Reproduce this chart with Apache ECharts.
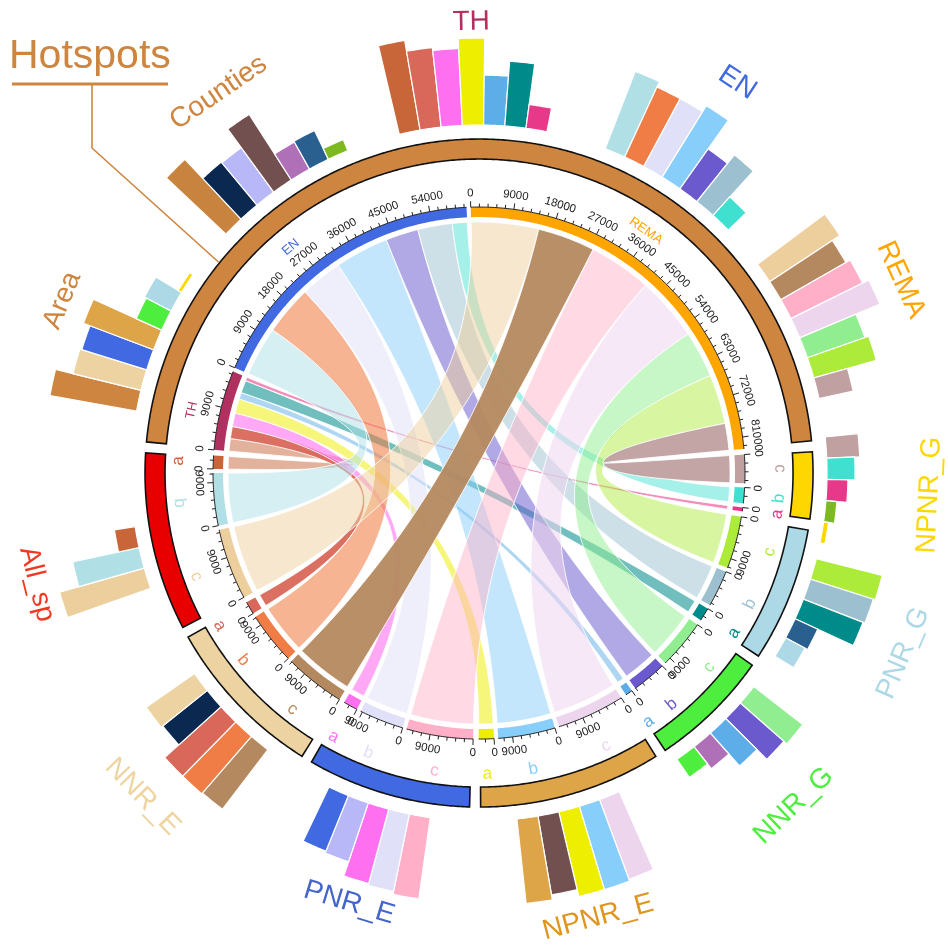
<!DOCTYPE html>
<html>
<head>
<meta charset="utf-8">
<script src="https://cdn.jsdelivr.net/npm/echarts@6/dist/echarts.min.js"></script>
<style>
html, body { margin: 0; padding: 0; background: #fff; }
#main { width: 948px; height: 948px; }
</style>
</head>
<body>
<div id="main"></div>
<script>
// ---------------- data ----------------
const hotspotNames = ['TH', 'EN', 'REMA'];
const hotspotColors = ['#B03060', '#4169E1', '#FFA500'];

// protected area groups, clockwise after the hotspots
const groupNames = ['NPNR_G', 'PNR_G', 'NNR_G', 'NPNR_E', 'PNR_E', 'NNR_E', 'All_sp'];
const groupColors = ['#FFD700', '#ADD8E6', '#4DEE3D', '#DDA448', '#4169E1', '#EDD3A2', '#E80000'];
const hotspotGroupColor = '#CD853F';

// sub-sector colours, order a, b, c
const subColors = {
    NPNR_G: ['#E8388A', '#40E0D0', '#C0A0A0'],
    PNR_G: ['#008B8B', '#9CC0D0', '#ADEB3A'],
    NNR_G: ['#5DADE8', '#6A5ACD', '#90EE90'],
    NPNR_E: ['#EEEE00', '#87CEFA', '#EED5EE'],
    PNR_E: ['#FF70F0', '#E0E0F8', '#FFB0C8'],
    NNR_E: ['#D9685A', '#F07D45', '#B5895F'],
    All_sp: ['#C8663A', '#B0E0E6', '#EDCF9E']
};
const countyColors = {
    Hotspots: '#C8843F', NNR_E: '#0A2850', PNR_E: '#B8B8F8', NPNR_E: '#735050',
    NNR_G: '#B070B8', PNR_G: '#2A6090', NPNR_G: '#7CBA20'
};

// links: TH -> a, EN -> b, REMA -> c ; order of targets along each hotspot
const linkTargets = ['All_sp', 'NNR_E', 'PNR_E', 'NPNR_E', 'NNR_G', 'PNR_G', 'NPNR_G'];
const thLinks = [2800, 2700, 3000, 3200, 1500, 2800, 800];
const enLinks = [11000, 11000, 9400, 12000, 7300, 7700, 3300];
const remaLinks = [15000, 12800, 14000, 14300, 10400, 11000, 6000];
const linkAlpha = [
    [0.5, 0.95, 0.6, 0.52, 0.5, 0.56, 0.58],
    [0.52, 0.58, 0.5, 0.5, 0.52, 0.5, 0.47],
    [0.5, 0.95, 0.47, 0.55, 0.5, 0.47, 0.95]
];

// outer bar tracks
const barTH = [91, 80, 77, 87, 50, 65, 24];
const barEN = [83, 77, 77, 84, 49, 60, 25];
const barREMA = [84, 75, 80, 87, 61, 65, 35];
const barNPNR_G = [33, 28, 21, 11, 5];
const barPNR_G = [68, 66, 64, 25, 22];
const barNNR_G = [62, 58, 44, 28, 22];
const barNPNR_E = [85, 87, 87, 80, 85];
const barPNR_E = [82, 79, 77, 62, 60];
const barNNR_E = [75, 76, 76, 57, 59];
const barAll_sp = [88, 68, 21];
const barArea = [88, 70, 68, 75, 28, 30, 4];
const barCounties = [82, 56, 55, 78, 31, 32, 12];

const barGroupNames = ['TH', 'EN', 'REMA', 'NPNR_G', 'PNR_G', 'NNR_G', 'NPNR_E', 'PNR_E', 'NNR_E', 'All_sp', 'Area', 'Counties'];
const barGroupAngles = [359, 33.5, 65.4, 92.8, 113, 136.6, 165, 196.8, 226.1, 255.9, 292.5, 325.6];
const barLabelRadius = [451, 468, 464, 451, 461, 458, 460, 449, 467, 456, 451, 461];
const barLabelColors = ['#B03060', '#4169E1', '#FFA500', '#FFD700', '#ADD8E6', '#4DEE3D', '#E0951E', '#4466CC', '#EED5A0', '#EE3A22', '#CD853F', '#CD853F'];

// ---------------- layout ----------------
const R_MAX = 480;
const CHORD_R = 251, TRACK_R0 = 256, TRACK_R1 = 266;
const RING_R0 = 314, RING_R1 = 334;
const BAR_R0 = 348, BAR_PITCH = 3.5;
const TICK_LABEL_R = 280, SUB_LABEL_R = 301, NAME_R = 294;
const GAP_IN = 0.9, GAP_OUT = 1.2, START = 275;
const FONT = '"Liberation Sans", Arial, sans-serif';

// sector list (clockwise)
const sectors = [];
hotspotNames.forEach((h, i) => {
    const vals = [thLinks, enLinks, remaLinks][i];
    sectors.push({ name: h, label: h, color: hotspotColors[i], group: 'Hotspots',
        value: vals.reduce((a, b) => a + b, 0) });
});
groupNames.forEach(g => {
    const gi = linkTargets.indexOf(g);
    ['c', 'b', 'a'].forEach(letter => {
        const li = 'abc'.indexOf(letter);
        const vals = [thLinks, enLinks, remaLinks][li];
        sectors.push({ name: g + '_' + letter, label: letter, color: subColors[g][li], group: g, value: vals[gi] });
    });
});
const total = sectors.reduce((a, s) => a + s.value, 0);
let gapSum = 0;
sectors.forEach((s, i) => {
    const next = sectors[(i + 1) % sectors.length];
    s.gapAfter = next.group === s.group ? GAP_IN : GAP_OUT;
    gapSum += s.gapAfter;
});
const scale = (360 - gapSum) / total;
let cursor = START;
sectors.forEach(s => {
    s.start = cursor;
    s.end = cursor + s.value * scale;
    cursor = s.end + s.gapAfter;
});
const byName = {};
sectors.forEach(s => { byName[s.name] = s; });

const ringGroups = ['Hotspots'].concat(groupNames).map((g, i) => {
    const list = sectors.filter(s => s.group === g);
    return { name: g, color: i === 0 ? hotspotGroupColor : groupColors[i - 1],
        start: list[0].start + 0.35, end: list[list.length - 1].end - 0.35 };
});

const links = [];
hotspotNames.forEach((h, hi) => {
    const vals = [thLinks, enLinks, remaLinks][hi];
    const hs = byName[h];
    let cum = 0;
    linkTargets.forEach((g, gi) => {
        const sub = byName[g + '_' + 'abc'[hi]];
        const s0 = hs.start + cum * scale;
        cum += vals[gi];
        const s1 = hs.start + cum * scale;
        links.push({ s0: s0, s1: s1, t0: sub.start, t1: sub.end, color: sub.color, alpha: linkAlpha[hi][gi] });
    });
});

// bars
function groupBarColors(g) {
    return [subColors[g][2], subColors[g][1], subColors[g][0], countyColors[g], groupColors[groupNames.indexOf(g)]];
}
const areaOrder = ['Hotspots', 'NNR_E', 'PNR_E', 'NPNR_E', 'NNR_G', 'PNR_G', 'NPNR_G'];
const barColorLists = [
    linkTargets.map(g => subColors[g][0]),
    linkTargets.map(g => subColors[g][1]),
    linkTargets.map(g => subColors[g][2]),
    groupBarColors('NPNR_G'), groupBarColors('PNR_G'), groupBarColors('NNR_G'),
    groupBarColors('NPNR_E'), groupBarColors('PNR_E'), groupBarColors('NNR_E'),
    [subColors.All_sp[2], subColors.All_sp[1], subColors.All_sp[0]],
    areaOrder.map(g => g === 'Hotspots' ? hotspotGroupColor : groupColors[groupNames.indexOf(g)]),
    areaOrder.map(g => countyColors[g])
];
const barValueLists = [barTH, barEN, barREMA, barNPNR_G, barPNR_G, barNNR_G, barNPNR_E, barPNR_E, barNNR_E, barAll_sp, barArea, barCounties];
const bars = [];
barValueLists.forEach((vals, k) => {
    vals.forEach((v, i) => {
        const c = barGroupAngles[k] + (i - (vals.length - 1) / 2) * BAR_PITCH;
        bars.push({ value: v, a0: c - BAR_PITCH / 2, a1: c + BAR_PITCH / 2, color: barColorLists[k][i] });
    });
});

// ---------------- helpers ----------------
function P(api, r, a) {
    const c = api.coord([r, a]);
    return [c[0], c[1]];
}
function arc(api, r, a0, a1) {
    const n = Math.max(2, Math.ceil(Math.abs(a1 - a0) / 0.4) + 1);
    const pts = [];
    for (let i = 0; i < n; i++) pts.push(P(api, r, a0 + (a1 - a0) * i / (n - 1)));
    return pts;
}
function band(api, r0, r1, a0, a1) {
    return arc(api, r1, a0, a1).concat(arc(api, r0, a1, a0));
}
function quad(p0, c, p2, n) {
    const pts = [];
    for (let i = 1; i < n; i++) {
        const t = i / n, u = 1 - t;
        pts.push([u * u * p0[0] + 2 * u * t * c[0] + t * t * p2[0],
                  u * u * p0[1] + 2 * u * t * c[1] + t * t * p2[1]]);
    }
    return pts;
}
function textRot(a) {
    a = ((a % 360) + 360) % 360;
    const deg = (a > 90 && a < 270) ? 180 - a : -a;
    return deg * Math.PI / 180;
}
function label(api, r, a, text, color, size) {
    const p = P(api, r, a);
    return {
        type: 'text', x: p[0], y: p[1], rotation: textRot(a),
        style: { text: text, fill: color, font: size + 'px ' + FONT,
            align: 'center', verticalAlign: 'middle', textAlign: 'center', textVerticalAlign: 'middle' }
    };
}
function hexToRgba(hex, alpha) {
    const n = parseInt(hex.slice(1), 16);
    return 'rgba(' + (n >> 16) + ',' + ((n >> 8) & 255) + ',' + (n & 255) + ',' + alpha + ')';
}
function idxData(list) {
    return list.map(() => [0, 0]);
}

// ---------------- chart ----------------
var dom = document.getElementById('main');
var myChart = echarts.init(dom, null, { renderer: 'canvas' });

var option = {
    animation: false,
    backgroundColor: '#fff',
    polar: { center: ['50.53%', '49.9%'], radius: R_MAX },
    angleAxis: { type: 'value', min: 0, max: 360, startAngle: 90, clockwise: true, show: false },
    radiusAxis: { type: 'value', min: 0, max: R_MAX, show: false },
    series: [
        {
            // chords
            type: 'custom', coordinateSystem: 'polar', silent: true, z: 1,
            data: idxData(links),
            renderItem: function (params, api) {
                const l = links[params.dataIndex];
                const C = P(api, 0, 0);
                let pts = arc(api, CHORD_R, l.s0, l.s1);
                pts = pts.concat(quad(P(api, CHORD_R, l.s1), C, P(api, CHORD_R, l.t0), 60));
                pts = pts.concat(arc(api, CHORD_R, l.t0, l.t1));
                pts = pts.concat(quad(P(api, CHORD_R, l.t1), C, P(api, CHORD_R, l.s0), 60));
                return {
                    type: 'polygon', shape: { points: pts },
                    style: { fill: hexToRgba(l.color, l.alpha), stroke: 'rgba(255,255,255,0.85)', lineWidth: 1 }
                };
            }
        },
        {
            // sector track
            type: 'custom', coordinateSystem: 'polar', silent: true, z: 2,
            data: idxData(sectors),
            renderItem: function (params, api) {
                const s = sectors[params.dataIndex];
                return { type: 'polygon', shape: { points: band(api, TRACK_R0, TRACK_R1, s.start, s.end) },
                    style: { fill: s.color } };
            }
        },
        {
            // axis ticks and labels
            type: 'custom', coordinateSystem: 'polar', silent: true, z: 3,
            data: idxData(sectors),
            renderItem: function (params, api) {
                const s = sectors[params.dataIndex];
                const children = [{
                    type: 'polyline', shape: { points: arc(api, TRACK_R1, s.start, s.end) },
                    style: { stroke: '#222', lineWidth: 1, fill: null }
                }];
                for (let v = 0; v <= s.value; v += 1800) {
                    const a = s.start + v * scale;
                    const major = v % 9000 === 0;
                    const p0 = P(api, TRACK_R1, a);
                    const p1 = P(api, TRACK_R1 + (major ? 6 : 3.5), a);
                    children.push({ type: 'line', shape: { x1: p0[0], y1: p0[1], x2: p1[0], y2: p1[1] },
                        style: { stroke: '#222', lineWidth: 1 } });
                    if (major) children.push(label(api, TICK_LABEL_R, a, String(v), '#222', 11.5));
                }
                if (s.group === 'Hotspots') {
                    children.push(label(api, NAME_R, s.start + (s.end - s.start) * 0.42, s.label, s.color, 13));
                } else {
                    children.push(label(api, SUB_LABEL_R, (s.start + s.end) / 2, s.label, s.color, 17));
                }
                return { type: 'group', children: children };
            }
        },
        {
            // outer group ring
            type: 'custom', coordinateSystem: 'polar', silent: true, z: 4,
            data: idxData(ringGroups),
            renderItem: function (params, api) {
                const g = ringGroups[params.dataIndex];
                return { type: 'polygon', shape: { points: band(api, RING_R0, RING_R1, g.start, g.end) },
                    style: { fill: g.color, stroke: '#111', lineWidth: 1.6 } };
            }
        },
        {
            // outer bars
            type: 'custom', coordinateSystem: 'polar', silent: true, z: 5,
            data: idxData(bars),
            renderItem: function (params, api) {
                const b = bars[params.dataIndex];
                return { type: 'polygon', shape: { points: band(api, BAR_R0, BAR_R0 + b.value, b.a0, b.a1) },
                    style: { fill: b.color, stroke: '#fff', lineWidth: 1.2 } };
            }
        },
        {
            // bar group labels
            type: 'custom', coordinateSystem: 'polar', silent: true, z: 6,
            data: idxData(barGroupNames),
            renderItem: function (params, api) {
                const k = params.dataIndex;
                return label(api, barLabelRadius[k], barGroupAngles[k], barGroupNames[k], barLabelColors[k], 28);
            }
        },
        {
            // title with leader line to the hotspot ring
            type: 'custom', coordinateSystem: 'polar', silent: true, z: 7,
            data: [[0, 0]],
            renderItem: function (params, api) {
                const end = P(api, RING_R1 + 1, 309);
                return {
                    type: 'group',
                    children: [
                        { type: 'text', x: 9, y: 57,
                          style: { text: 'Hotspots', fill: '#CD853F', font: '41px ' + FONT,
                              align: 'left', verticalAlign: 'middle', textAlign: 'left', textVerticalAlign: 'middle' } },
                        { type: 'line', shape: { x1: 12, y1: 84, x2: 168, y2: 84 },
                          style: { stroke: '#CD853F', lineWidth: 3 } },
                        { type: 'polyline', shape: { points: [[92, 84], [92, 148], end] },
                          style: { stroke: '#CD853F', lineWidth: 1.6, fill: null } }
                    ]
                };
            }
        }
    ]
};

myChart.setOption(option);
window.addEventListener('resize', myChart.resize);
</script>
</body>
</html>
